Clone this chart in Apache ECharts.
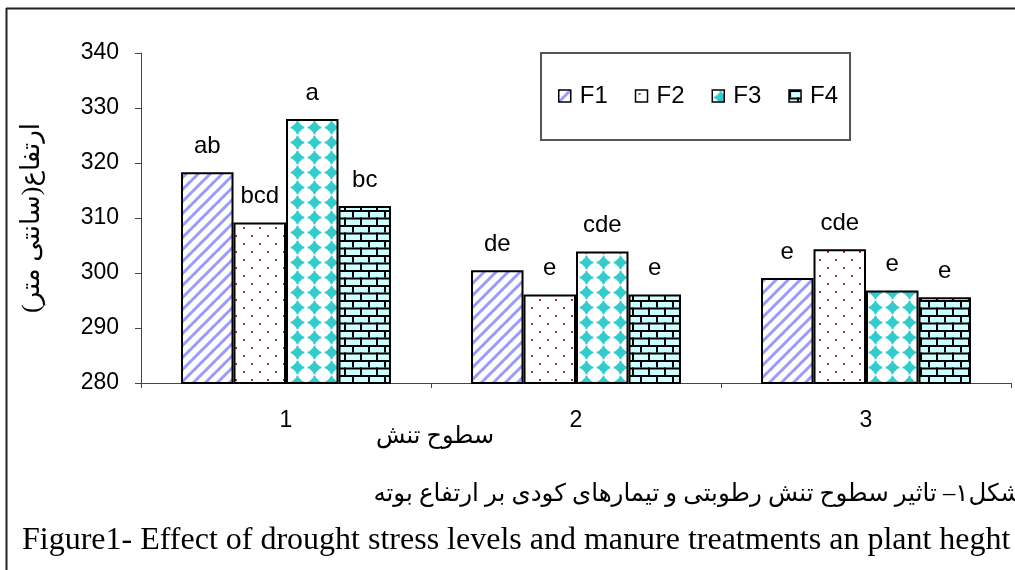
<!DOCTYPE html>
<html>
<head>
<meta charset="utf-8">
<script src="https://cdn.jsdelivr.net/npm/echarts@6/dist/echarts.min.js"></script>
<style>
html,body{margin:0;padding:0;background:#fff;}
#c{width:1015px;height:570px;}
</style>
</head>
<body>
<div id="c"></div>
<script>
// ---- data ----
const categories = ['1', '2', '3'];
const seriesNames = ['F1', 'F2', 'F3', 'F4'];
const F1 = [318.3, 300.5, 299.1];
const F2 = [309.2, 296.1, 304.3];
const F3 = [328.0, 303.9, 296.8];
const F4 = [312.2, 296.1, 295.6];
const F1Letters = ['ab', 'de', 'e'];
const F2Letters = ['bcd', 'e', 'cde'];
const F3Letters = ['a', 'cde', 'e'];
const F4Letters = ['bc', 'e', 'e'];
const yMin = 280, yMax = 340, yStep = 10;
const yAxisTitle = '\u200Fارتفاع(سانتی متر)\u200F';
const xAxisTitle = '\u200Fسطوح تنش\u200F';
const captionFa = '\u200Fشکل۱– تاثیر سطوح تنش رطوبتی و تیمارهای کودی بر ارتفاع بوته\u200F';
const captionEn = 'Figure1- Effect of drought stress levels and manure treatments an plant heght';

// ---- patterns ----
function tile(w, h, draw) {
  const c = document.createElement('canvas');
  c.width = w; c.height = h;
  const g = c.getContext('2d');
  draw(g, w, h);
  return { image: c, repeat: 'repeat' };
}
const patF1 = tile(12, 12, (g, w, h) => {
  g.fillStyle = '#fff'; g.fillRect(0, 0, w, h);
  g.strokeStyle = '#9999ff'; g.lineWidth = 3;
  for (let k = -1; k <= 1; k++) {
    g.beginPath(); g.moveTo(k * w - 1, h + 1); g.lineTo(k * w + w + 1, -1); g.stroke();
  }
});
const patF2 = tile(16, 16, (g, w, h) => {
  g.fillStyle = '#fff'; g.fillRect(0, 0, w, h);
  g.fillStyle = '#993366';
  g.fillRect(3, 3, 2, 2);
  g.fillRect(11, 11, 2, 2);
});
const patF3 = tile(17, 15, (g, w, h) => {
  g.fillStyle = '#fff'; g.fillRect(0, 0, w, h);
  g.fillStyle = '#33cccc';
  const cx = w / 2, cy = h / 2, r = 6.3;
  g.beginPath(); g.moveTo(cx, cy - r); g.lineTo(cx + r, cy); g.lineTo(cx, cy + r); g.lineTo(cx - r, cy); g.closePath(); g.fill();
  g.fillRect(cx - 1, cy - r - 0.5, 2, 2 * r + 1);
  g.fillRect(cx - r - 0.5, cy - 1, 2 * r + 1, 2);
  g.fillRect(cx - 3, cy - 3, 6, 6);
});
const patF4 = tile(16, 15, (g, w, h) => {
  g.fillStyle = '#ccffff'; g.fillRect(0, 0, w, h);
  g.fillStyle = '#000';
  g.fillRect(0, 0, w, 2);
  g.fillRect(0, 7.5, w, 2);
  g.fillRect(0, 0, 2, 7.5);
  g.fillRect(8, 7.5, 2, 7.5);
});
const patterns = [patF1, patF2, patF3, patF4];
const values = [F1, F2, F3, F4];
const letters = [F1Letters, F2Letters, F3Letters, F4Letters];

const series = seriesNames.map((name, i) => ({
  name: name,
  type: 'bar',
  data: values[i],
  barGap: '0%',
  barCategoryGap: '27.6%',
  itemStyle: { color: patterns[i], borderColor: '#000', borderWidth: 2 },
  emphasis: { disabled: true },
  label: {
    show: true,
    position: 'top',
    distance: 14,
    formatter: p => letters[i][p.dataIndex],
    color: '#000',
    fontFamily: 'Liberation Sans, Arial, sans-serif',
    fontSize: 24
  }
}));

const chart = echarts.init(document.getElementById('c'), null, { renderer: 'canvas' });
chart.setOption({
  animation: false,
  backgroundColor: '#fff',
  grid: { left: 141, right: 4, top: 53, bottom: 187, containLabel: false },
  legend: {
    data: seriesNames,
    left: 553,
    top: 79,
    itemWidth: 12,
    itemHeight: 12,
    itemGap: 27,
    icon: 'rect',
    itemStyle: { borderColor: '#000', borderWidth: 1.5 },
    textStyle: { fontFamily: 'Liberation Sans, Arial, sans-serif', fontSize: 24, color: '#000', padding: [0, 0, 0, 4] }
  },
  xAxis: {
    type: 'category',
    data: categories,
    axisLine: { lineStyle: { color: '#444', width: 1 } },
    axisTick: { show: true, length: 5, lineStyle: { color: '#444' } },
    axisLabel: { margin: 26, fontFamily: 'Liberation Sans, Arial, sans-serif', fontSize: 23, color: '#000' }
  },
  yAxis: {
    type: 'value',
    min: yMin, max: yMax, interval: yStep,
    splitLine: { show: false },
    axisLine: { show: true, lineStyle: { color: '#444', width: 1 } },
    axisTick: { show: true, length: 6, lineStyle: { color: '#444' } },
    axisLabel: { margin: 22, fontFamily: 'Liberation Sans, Arial, sans-serif', fontSize: 23, color: '#000' },
    name: yAxisTitle,
    nameLocation: 'middle',
    nameRotate: 90,
    nameGap: 96,
    nameTextStyle: { fontFamily: 'Liberation Serif, DejaVu Sans, serif', fontSize: 26, color: '#000' }
  },
  graphic: [
    { type: 'line', shape: { x1: 6.5, y1: 8, x2: 6.5, y2: 570 }, style: { stroke: '#222', lineWidth: 2 }, silent: true },
    { type: 'line', shape: { x1: 6, y1: 8.5, x2: 1015, y2: 8.5 }, style: { stroke: '#222', lineWidth: 2 }, silent: true },
    { type: 'rect', shape: { x: 541, y: 53, width: 309, height: 87 }, style: { fill: null, stroke: '#555', lineWidth: 2 }, silent: true },
    { type: 'text', x: 435, y: 437, style: { text: xAxisTitle, font: '24px "Liberation Serif", "DejaVu Sans", serif', fill: '#000', align: 'center', verticalAlign: 'middle' }, silent: true },
    { type: 'text', x: 1021, y: 495, style: { text: captionFa, font: '24.5px "Liberation Serif", "DejaVu Sans", serif', fill: '#000', align: 'right', verticalAlign: 'middle' }, silent: true },
    { type: 'text', x: 22, y: 541, style: { text: captionEn, font: '32px "Liberation Serif", "Times New Roman", serif', fill: '#000', align: 'left', verticalAlign: 'middle' }, silent: true }
  ],
  series: series
});
</script>
</body>
</html>
